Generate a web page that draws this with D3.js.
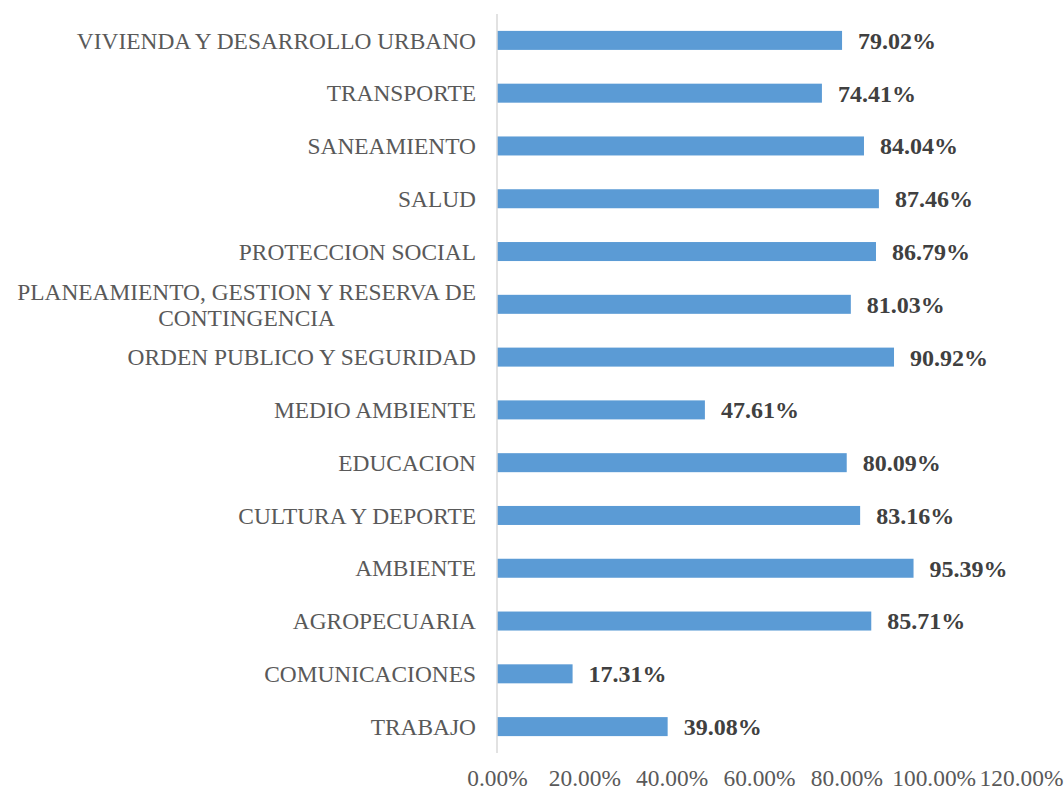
<!DOCTYPE html>
<html><head><meta charset="utf-8">
<script src="https://cdn.jsdelivr.net/npm/d3@7"></script>
<style>body{margin:0;background:#fff}svg{display:block}</style>
</head><body><svg id="c" width="1064" height="789"></svg>
<script>
const categories = ["VIVIENDA Y DESARROLLO URBANO","TRANSPORTE","SANEAMIENTO","SALUD","PROTECCION SOCIAL","PLANEAMIENTO, GESTION Y RESERVA DE|CONTINGENCIA","ORDEN PUBLICO Y SEGURIDAD","MEDIO AMBIENTE","EDUCACION","CULTURA Y DEPORTE","AMBIENTE","AGROPECUARIA","COMUNICACIONES","TRABAJO"];
const values = [79.02,74.41,84.04,87.46,86.79,81.03,90.92,47.61,80.09,83.16,95.39,85.71,17.31,39.08];
const ticks = [0,20,40,60,80,100,120];

(function(){
const svg = d3.select("#c");
const pl = 497, pr = 1021, pt = 14, pb = 753;
const x = d3.scaleLinear().domain([0,120]).range([pl,pr]);
const y = d3.scaleBand().domain(categories).range([pt,pb]).paddingInner(0.64).paddingOuter(0.32);
const font = "'Liberation Serif','Times New Roman',serif";
const fs = 23.4;

svg.selectAll("rect.bar").data(values).join("rect")
  .attr("x", x(0)).attr("y",(d,i)=>y(categories[i]))
  .attr("width",d=>x(d)-x(0)).attr("height",y.bandwidth())
  .attr("fill","#5b9bd5");

svg.append("line").attr("x1",pl).attr("x2",pl).attr("y1",pt).attr("y2",pb)
  .attr("stroke","#d9d9d9").attr("stroke-width",1.5);

svg.selectAll("text.val").data(values).join("text")
  .attr("x",d=>x(d)+16).attr("y",(d,i)=>y(categories[i])+y.bandwidth()/2)
  .attr("dy","0.35em").attr("font-family",font).attr("font-size",24).attr("font-weight","bold")
  .attr("fill","#404040").text(d=>d.toFixed(2)+"%");

categories.forEach(c=>{
  const cy = y(c)+y.bandwidth()/2;
  const lines = c.split("|");
  if(lines.length===1){
    svg.append("text").attr("x",476).attr("y",cy).attr("dy","0.35em").attr("text-anchor","end")
      .attr("font-family",font).attr("font-size",fs).attr("fill","#595959").text(c);
  } else {
    const t1 = svg.append("text").attr("x",476).attr("y",cy-13).attr("dy","0.35em").attr("text-anchor","end")
      .attr("font-family",font).attr("font-size",fs).attr("fill","#595959").text(lines[0]);
    const w = t1.node().getComputedTextLength();
    svg.append("text").attr("x",476-w/2).attr("y",cy+13).attr("dy","0.35em").attr("text-anchor","middle")
      .attr("font-family",font).attr("font-size",fs).attr("fill","#595959").text(lines[1]);
  }
});

const ax = svg.append("g").attr("transform",`translate(0,${pb})`)
  .call(d3.axisBottom(x).tickValues(ticks).tickSize(0).tickPadding(0).tickFormat(d=>d.toFixed(2)+"%"));
ax.select(".domain").remove();
ax.selectAll("text").attr("y",25).attr("dy","0.35em").attr("font-family",font).attr("font-size",fs).attr("fill","#595959");
})();
</script></body></html>
